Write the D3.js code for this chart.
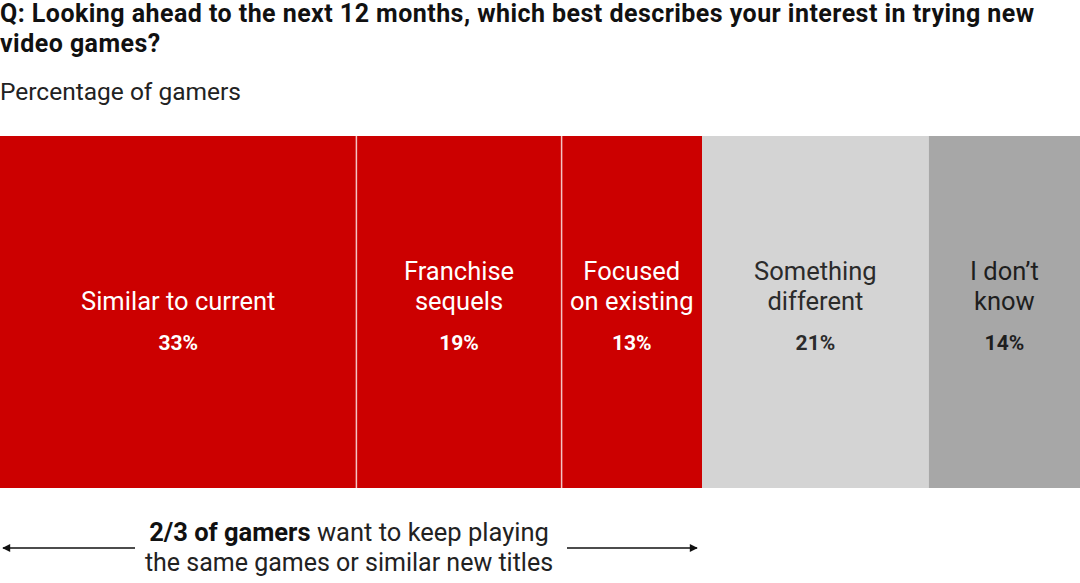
<!DOCTYPE html>
<html>
<head>
<meta charset="utf-8">
<script src="https://cdn.jsdelivr.net/npm/d3@7"></script>
<style>
  body { margin: 0; background: #fff; }
  svg { display: block; font-family: Roboto, "Noto Sans", sans-serif; }
</style>
</head>
<body>
<div id="chart"></div>
<script>
// DATA
var categories = ["Similar to current", "Franchise sequels", "Focused on existing", "Something different", "I don\u2019t know"];
var labelLines = [["Similar to current"], ["Franchise", "sequels"], ["Focused", "on existing"], ["Something", "different"], ["I don\u2019t", "know"]];
var values = [33, 19, 13, 21, 14];
var groups = ["same", "same", "same", "new", "unsure"];

var titleLines = ["Q: Looking ahead to the next 12 months, which best describes your interest in trying new", "video games?"];
var subtitle = "Percentage of gamers";

// SIZING
var width = 1080, height = 583;
var barTop = 136, barBottom = 488;

var svg = d3.select("#chart").append("svg")
    .attr("width", width)
    .attr("height", height);

var fill = { same: "#cc0000", new: "#d4d4d4", unsure: "#a7a7a7" };
var textFill = { same: "#ffffff", new: "#2b2b2b", unsure: "#1e1e1e" };

// stack values
var stacked = [];
var run = 0;
for (var i = 0; i < values.length; i++) {
    stacked.push({ cat: categories[i], lines: labelLines[i], v: values[i], g: groups[i], x0: run, x1: run + values[i] });
    run += values[i];
}

var x = d3.scaleLinear().domain([0, d3.sum(values)]).range([0, width]);

// TITLE
svg.selectAll(".title").data(titleLines).enter().append("text")
    .attr("x", 0)
    .attr("y", function (d, i) { return 22 + i * 30; })
    .style("font-weight", "bold")
    .style("font-size", "25px")
    .style("letter-spacing", "0.45px")
    .style("fill", "#111")
    .text(function (d) { return d; });

svg.append("text")
    .attr("x", 0)
    .attr("y", 100)
    .style("font-size", "24.5px")
    .style("fill", "#222")
    .text(subtitle);

// BARS
var seg = svg.selectAll(".seg").data(stacked).enter().append("g");

seg.append("rect")
    .attr("x", function (d) { return x(d.x0); })
    .attr("y", barTop)
    .attr("width", function (d) { return x(d.x1) - x(d.x0); })
    .attr("height", barBottom - barTop)
    .attr("fill", function (d) { return fill[d.g]; });

// white separators between red segments
svg.selectAll(".sep").data(stacked.filter(function (d, i) { return i > 0 && d.g == "same"; }))
    .enter().append("line")
    .attr("x1", function (d) { return x(d.x0); })
    .attr("x2", function (d) { return x(d.x0); })
    .attr("y1", barTop)
    .attr("y2", barBottom)
    .attr("stroke", "#f4c4c4")
    .attr("stroke-width", 1.5);

seg.each(function (d) {
    var g = d3.select(this);
    var cx = (x(d.x0) + x(d.x1)) / 2;
    var n = d.lines.length;
    d.lines.forEach(function (line, j) {
        g.append("text")
            .attr("x", cx)
            .attr("y", 310 - (n - 1 - j) * 30)
            .attr("text-anchor", "middle")
            .style("font-size", "25.5px")
            .style("fill", textFill[d.g])
            .text(line);
    });
    g.append("text")
        .attr("x", cx)
        .attr("y", 350)
        .attr("text-anchor", "middle")
        .style("font-size", "21px")
        .style("font-weight", "bold")
        .style("fill", textFill[d.g])
        .text(d.v + "%");
});

// ANNOTATION
var redEnd = x(d3.sum(stacked.filter(function (d) { return d.g == "same"; }), function (d) { return d.v; }));
var annCx = 349;

var defs = svg.append("defs");
defs.append("marker")
    .attr("id", "arrow")
    .attr("viewBox", "0 0 10 10")
    .attr("refX", 9).attr("refY", 5)
    .attr("markerWidth", 11).attr("markerHeight", 8)
    .attr("markerUnits", "userSpaceOnUse")
    .attr("orient", "auto-start-reverse")
    .append("path")
    .attr("d", "M0,0 L10,5 L0,10 z")
    .attr("fill", "#111");

svg.append("line")
    .attr("x1", 135).attr("x2", x(0) + 3)
    .attr("y1", 548).attr("y2", 548)
    .attr("stroke", "#111").attr("stroke-width", 1.5)
    .attr("marker-end", "url(#arrow)");

svg.append("line")
    .attr("x1", 567).attr("x2", redEnd - 5)
    .attr("y1", 548).attr("y2", 548)
    .attr("stroke", "#111").attr("stroke-width", 1.5)
    .attr("marker-end", "url(#arrow)");

var ann1 = svg.append("text")
    .attr("x", annCx)
    .attr("y", 541)
    .attr("text-anchor", "middle")
    .style("font-size", "25.5px")
    .style("fill", "#222");
ann1.append("tspan").style("font-weight", "bold").style("fill", "#111").text("2/3 of gamers");
ann1.append("tspan").text(" want to keep playing");

svg.append("text")
    .attr("x", annCx)
    .attr("y", 571)
    .attr("text-anchor", "middle")
    .style("font-size", "25px")
    .style("fill", "#222")
    .text("the same games or similar new titles");
</script>
</body>
</html>
